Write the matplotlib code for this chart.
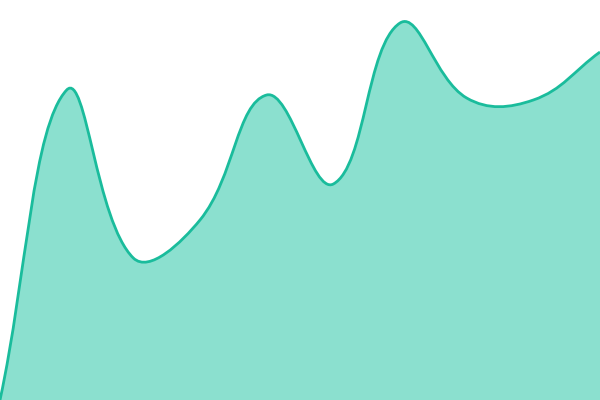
import numpy as np
import matplotlib
matplotlib.use("Agg")
import matplotlib.pyplot as plt
from matplotlib.path import Path
from matplotlib.patches import PathPatch

# values (0 = bottom edge, 400 = top edge)
x_vals = [0, 1, 2, 3, 4, 5, 6, 7, 8, 9]
y_vals = [0, 310, 142, 180, 305, 216, 377, 302, 300, 348]

line_color = "#1abc9c"
fill_color = "#8be0cf"
tension = 0.4

def spline_path(xs, ys, t=0.4, xscale=1.0):
    # smooth curve with distance weighted control points (chart.js style);
    # distances are measured with x scaled to pixels
    pts = np.column_stack([np.array(xs, float) * xscale, ys])
    n = len(pts)
    prev_c, next_c = [], []
    for i in range(n):
        p0 = pts[max(i - 1, 0)]
        p1 = pts[i]
        p2 = pts[min(i + 1, n - 1)]
        d01 = np.hypot(*(p1 - p0))
        d12 = np.hypot(*(p2 - p1))
        fa = d01 / (d01 + d12) if d01 + d12 else 0
        fb = d12 / (d01 + d12) if d01 + d12 else 0
        prev_c.append(p1 - t * fa * (p2 - p0))
        next_c.append(p1 + t * fb * (p2 - p0))
    verts = [pts[0]]
    codes = [Path.MOVETO]
    for i in range(n - 1):
        verts += [next_c[i], prev_c[i + 1], pts[i + 1]]
        codes += [Path.CURVE4] * 3
    verts = [(v[0] / xscale, v[1]) for v in verts]
    return verts, codes

verts, codes = spline_path(x_vals, y_vals, tension, xscale=600 / (len(x_vals) - 1))

fig = plt.figure(figsize=(6, 4), dpi=100)
ax = fig.add_axes([0, 0, 1, 1])

# area: curve then down to the baseline
area_verts = verts + [(x_vals[-1], 0), (x_vals[0], 0), verts[0]]
area_codes = codes + [Path.LINETO, Path.LINETO, Path.CLOSEPOLY]
ax.add_patch(PathPatch(Path(area_verts, area_codes), facecolor=fill_color,
                       edgecolor="none"))
ax.add_patch(PathPatch(Path(verts, codes), facecolor="none",
                       edgecolor=line_color, linewidth=2.0))

ax.set_xlim(x_vals[0], x_vals[-1])
ax.set_ylim(0, 400)
ax.axis("off")

fig.savefig("out.png", dpi=100)
